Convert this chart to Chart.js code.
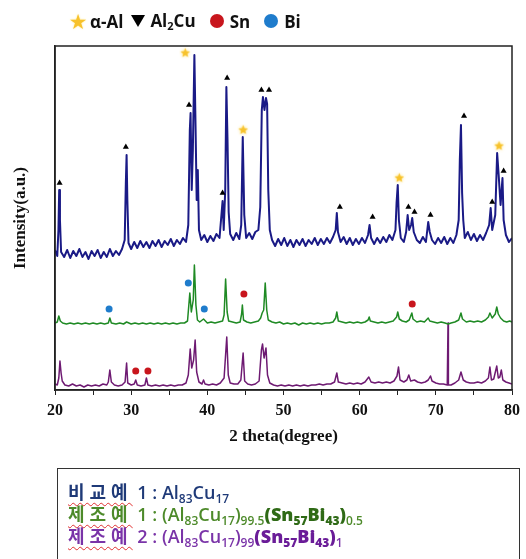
<!DOCTYPE html>
<html>
<head>
<meta charset="utf-8">
<script src="https://cdn.jsdelivr.net/npm/chart.js@4.4.0/dist/chart.umd.min.js"></script>
<style>
  body { margin: 0; background: #fff; }
  #wrap { position: relative; width: 526px; height: 559px; overflow: hidden; }
  #xrd { position: absolute; left: 0; top: 0; }
  #legend {
    position: absolute; left: 70px; top: 8px; white-space: nowrap;
    font-family: "Open Sans", sans-serif; font-weight: 700; font-size: 17px; color: #111;
  }
  #legend span { display: inline-block; vertical-align: middle; }
  #legend sub { font-size: 11px; vertical-align: -3px; }
  #legend .star { color: #f7c22c; font-size: 18px; text-shadow: 0 0 2px #ffe27a; margin-right: 4px; }
  #legend .tri {
    width: 0; height: 0; margin: 0 5px 0 8px;
    border-left: 7px solid transparent; border-right: 7px solid transparent; border-top: 12px solid #000;
  }
  #legend .dot { width: 14px; height: 14px; border-radius: 50%; margin: 0 6px 0 14px; }
  #box {
    position: absolute; left: 57px; top: 468px; width: 463px; height: 120px;
    border: 1.5px solid #333; box-sizing: border-box; padding: 11px 0 0 10px;
    font-family: "Open Sans", "Noto Sans CJK KR", sans-serif; font-size: 18px; font-weight: 600;
  }
  #box .row { height: 22px; line-height: 22px; white-space: nowrap; }
  #box .ko {
    font-family: "Noto Sans CJK KR", sans-serif; font-weight: 700; font-size: 18px; letter-spacing: 5px;
    text-decoration: underline wavy #e03030; text-decoration-thickness: 1px; text-underline-offset: 3px;
  }
  #box sub { font-size: 12px; vertical-align: -4px; line-height: 0; }
  #box b { font-weight: 800; }
  .r1 { color: #1f3a78; }
  .r2 { color: #4d8a2a; }
  .r2 b { color: #2f6a16; }
  .r3 { color: #7a34a8; }
  .r3 b { color: #6a1c98; }
</style>
</head>
<body>
<div id="wrap">
  <canvas id="xrd" width="526" height="559"></canvas>
  <div id="legend">
    <span class="star">★</span><span>α-Al</span><span class="tri"></span><span>Al<sub>2</sub>Cu</span><span class="dot" style="background:#c8161d"></span><span>Sn</span><span class="dot" style="background:#1f7ccc"></span><span>Bi</span>
  </div>
  <div id="box">
    <div class="row r1"><span class="ko">비교예</span> 1 : Al<sub>83</sub>Cu<sub>17</sub></div>
    <div class="row r2"><span class="ko">제조예</span> 1 : (Al<sub>83</sub>Cu<sub>17</sub>)<sub>99.5</sub><b>(Sn<sub>57</sub>Bi<sub>43</sub>)</b><sub>0.5</sub></div>
    <div class="row r3"><span class="ko">제조예</span> 2 : (Al<sub>83</sub>Cu<sub>17</sub>)<sub>99</sub><b>(Sn<sub>57</sub>Bi<sub>43</sub>)</b><sub>1</sub></div>
  </div>
</div>
<script>
// 2theta, intensity (a.u., stacked as in the figure)
const cmp1Data = [
  [20.0,140],[20.3,134],[20.45,160],[20.55,200],[20.65,170],[20.8,138],[21.2,133],[21.6,140],[22.0,132],[22.4,139],
  [22.8,134],[23.2,141],[23.6,133],[24.0,138],[24.4,131],[24.8,139],[25.2,134],[25.6,140],[26.0,132],[26.4,138],
  [26.8,133],[27.2,141],[27.6,134],[28.0,139],[28.4,135],[28.8,141],[29.15,150],[29.3,207],[29.4,235],[29.5,190],
  [29.65,147],[30.0,141],[30.4,148],[30.8,142],[31.2,149],[31.6,143],[32.0,148],[32.4,142],[32.8,149],[33.2,144],
  [33.6,150],[34.0,143],[34.4,149],[34.8,145],[35.2,151],[35.6,144],[36.0,150],[36.4,146],[36.8,152],[37.2,148],
  [37.5,165],[37.7,260],[37.8,277],[37.95,200],[38.1,240],[38.3,335],[38.45,265],[38.6,190],[38.75,220],[38.9,160],
  [39.2,150],[39.6,155],[40.0,148],[40.4,154],[40.8,149],[41.2,156],[41.6,152],[41.85,175],[42.0,189],[42.15,160],
  [42.35,200],[42.5,303],[42.65,250],[42.8,178],[43.0,156],[43.4,150],[43.8,157],[44.2,151],[44.45,165],[44.65,253],
  [44.85,175],[45.1,152],[45.5,157],[45.9,151],[46.3,158],[46.7,160],[46.95,183],[47.15,280],[47.3,293],[47.5,280],
  [47.7,292],[47.85,286],[48.0,200],[48.2,160],[48.5,150],[48.9,144],[49.3,151],[49.7,145],[50.1,152],[50.5,144],
  [50.9,150],[51.3,143],[51.7,150],[52.1,145],[52.5,151],[52.9,144],[53.3,150],[53.7,146],[54.1,152],[54.5,145],
  [54.9,151],[55.3,146],[55.7,152],[56.1,147],[56.5,153],[56.85,160],[57.0,177],[57.15,158],[57.5,148],[57.9,153],
  [58.3,146],[58.7,152],[59.1,145],[59.5,151],[59.9,146],[60.3,152],[60.7,147],[61.1,155],[61.3,165],[61.5,152],
  [61.9,146],[62.3,152],[62.7,147],[63.1,153],[63.5,148],[63.9,155],[64.3,150],[64.7,160],[64.85,188],[65.0,205],
  [65.15,170],[65.4,152],[65.8,148],[66.1,158],[66.3,175],[66.5,160],[66.75,165],[66.9,172],[67.1,158],[67.5,150],
  [67.9,147],[68.3,153],[68.7,148],[69.0,168],[69.2,158],[69.5,150],[69.9,146],[70.3,152],[70.7,147],[71.1,153],
  [71.5,146],[71.9,152],[72.3,147],[72.7,155],[73.0,170],[73.15,230],[73.3,265],[73.45,197],[73.6,170],[73.8,152],
  [74.2,158],[74.6,150],[75.0,156],[75.4,149],[75.8,155],[76.2,150],[76.6,157],[77.0,165],[77.2,182],[77.4,160],
  [77.8,175],[78.05,237],[78.25,215],[78.5,185],[78.75,212],[78.9,170],[79.2,155],[79.6,148],[80.0,152]
];
const ex1Data = [
  [20.0,67],[20.3,68],[20.5,74],[20.7,69],[21.0,67],[21.5,66],[22.0,67],[22.5,66],[23.0,67],[23.5,66],
  [24.0,67],[24.5,66],[25.0,67],[25.5,66],[26.0,67],[26.5,66],[27.0,67],[27.2,72],[27.4,67],[28.0,66],
  [28.5,67],[29.0,66],[29.4,68],[30.0,66],[30.5,67],[31.0,66],[31.5,67],[32.0,66],[32.5,67],[33.0,66],
  [33.5,67],[34.0,66],[34.5,67],[35.0,66],[35.5,67],[36.0,66],[36.5,67],[37.0,67],[37.4,69],[37.7,97],
  [37.9,78],[38.15,90],[38.3,125],[38.5,85],[38.7,70],[39.0,68],[39.5,71],[40.0,67],[40.5,68],[41.0,67],
  [41.5,68],[42.0,69],[42.2,75],[42.4,111],[42.6,78],[42.8,69],[43.3,68],[43.8,67],[44.3,68],[44.5,76],
  [44.6,85],[44.75,70],[45.2,68],[45.7,67],[46.2,68],[46.7,69],[47.0,72],[47.2,77],[47.4,80],[47.6,107],
  [47.8,80],[48.0,70],[48.5,68],[49.0,67],[49.5,68],[50.0,66],[50.5,67],[51.0,66],[51.5,67],[52.0,65],
  [52.5,67],[53.0,66],[53.5,67],[54.0,66],[54.5,67],[55.0,66],[55.5,67],[56.0,67],[56.5,68],[56.85,72],
  [57.0,78],[57.2,69],[57.7,68],[58.2,67],[58.7,68],[59.2,67],[59.7,68],[60.2,67],[60.7,68],[61.1,70],
  [61.25,73],[61.4,69],[61.9,68],[62.4,67],[62.9,68],[63.4,67],[63.9,68],[64.4,69],[64.85,73],[65.0,78],
  [65.2,71],[65.6,69],[66.1,68],[66.5,70],[66.85,77],[67.0,71],[67.5,68],[68.0,69],[68.5,68],[69.0,72],
  [69.2,69],[69.7,68],[70.2,67],[70.7,68],[71.2,67],[71.6,66],[72.0,67],[72.5,68],[73.0,70],[73.3,77],
  [73.5,71],[74.0,68],[74.5,69],[75.0,68],[75.5,69],[76.0,68],[76.5,70],[76.9,73],[77.1,77],[77.4,72],
  [77.8,76],[78.0,83],[78.2,76],[78.5,72],[78.9,69],[79.3,68],[79.7,69],[80.0,68]
];
const ex2Data = [
  [20.0,6],[20.3,5],[20.5,12],[20.65,29],[20.8,17],[20.95,9],[21.3,5],[21.8,4],[22.3,6],[22.8,4],
  [23.3,5],[23.8,3],[24.3,5],[24.8,4],[25.3,5],[25.8,4],[26.3,6],[26.8,5],[27.0,8],[27.2,20],
  [27.4,8],[27.8,5],[28.3,4],[28.8,5],[29.2,8],[29.4,27],[29.55,7],[30.0,5],[30.4,6],[30.6,10],
  [30.8,5],[31.3,4],[31.8,5],[32.0,12],[32.2,5],[32.7,4],[33.2,5],[33.7,4],[34.2,5],[34.7,4],
  [35.2,5],[35.7,4],[36.2,5],[36.7,5],[37.2,7],[37.5,15],[37.75,41],[37.95,22],[38.2,30],[38.4,50],
  [38.6,18],[38.9,8],[39.3,6],[39.5,10],[39.7,6],[40.2,5],[40.7,6],[41.2,5],[41.7,7],[42.2,12],
  [42.55,53],[42.75,15],[43.0,7],[43.5,6],[44.0,6],[44.4,10],[44.7,37],[44.9,9],[45.3,6],[45.8,5],
  [46.3,6],[46.8,9],[47.1,40],[47.25,46],[47.45,32],[47.7,42],[47.9,15],[48.2,7],[48.7,5],[49.2,4],
  [49.7,5],[50.2,4],[50.7,5],[51.2,4],[51.7,5],[52.2,4],[52.7,5],[53.2,4],[53.7,5],[54.2,5],
  [54.7,6],[55.2,5],[55.7,6],[56.2,6],[56.7,8],[57.0,17],[57.2,8],[57.7,7],[58.2,6],[58.7,7],
  [59.2,6],[59.7,7],[60.2,6],[60.7,8],[61.2,13],[61.5,8],[62.0,7],[62.5,8],[63.0,7],[63.5,8],
  [64.0,7],[64.5,9],[64.9,14],[65.1,23],[65.3,10],[65.8,8],[66.2,10],[66.45,15],[66.7,9],[67.2,10],
  [67.6,8],[68.1,7],[68.6,8],[69.0,10],[69.3,14],[69.5,9],[70.0,7],[70.5,6],[71.0,6],[71.5,5],
  [71.6,67],[71.65,5],[72.0,5],[72.5,7],[73.0,10],[73.3,18],[73.6,10],[74.0,8],[74.5,7],[75.0,7],
  [75.5,8],[76.0,7],[76.5,9],[76.9,12],[77.1,23],[77.3,10],[77.6,11],[78.0,24],[78.2,12],[78.4,13],
  [78.6,20],[78.8,10],[79.2,8],[79.6,7],[80.0,6]
];

// phase markers
const alphaAlMarks = [[37.1,337],[44.7,260],[65.2,212],[78.3,244]];
const al2CuMarks = [[20.6,207],[29.3,243],[37.6,285],[42.0,197],[42.6,312],[47.1,300],[48.1,300],
  [57.4,183],[61.7,173],[66.4,183],[67.2,178],[69.3,175],[73.7,274],[77.4,188],[78.9,219]];
const snMarks = [[44.8,96],[66.9,86],[30.6,19],[32.2,19]];
const biMarks = [[27.1,81],[37.5,107],[39.6,81]];

const xTickLabels = [20, 30, 40, 50, 60, 70, 80];

function makeStar(size, color) {
  const c = document.createElement('canvas');
  c.width = size; c.height = size;
  const g = c.getContext('2d');
  const r = size / 2 - 1.5, cx = size / 2, cy = size / 2;
  g.shadowColor = 'rgba(255,220,90,0.9)';
  g.shadowBlur = 3;
  g.fillStyle = color;
  g.beginPath();
  for (let i = 0; i < 10; i++) {
    const rr = i % 2 === 0 ? r : r * 0.45;
    const a = -Math.PI / 2 + i * Math.PI / 5;
    g.lineTo(cx + rr * Math.cos(a), cy + rr * Math.sin(a));
  }
  g.closePath();
  g.fill();
  return c;
}

const frame = {
  id: 'frame',
  afterDraw(chart) {
    const {ctx, chartArea: a} = chart;
    ctx.save();
    ctx.strokeStyle = '#222';
    ctx.lineWidth = 1.5;
    ctx.strokeRect(a.left, a.top, a.right - a.left, a.bottom - a.top);
    ctx.restore();
  }
};

const lineSet = (data, color, width) => ({
  type: 'line', data, borderColor: color, borderWidth: width, pointRadius: 0,
  borderJoinStyle: 'round', tension: 0, order: 1
});
const markSet = (data, style, color, radius) => ({
  type: 'scatter', data, pointStyle: style, backgroundColor: color, borderColor: color,
  pointRadius: radius, borderWidth: 0, order: 0
});

const ctx = document.getElementById('xrd').getContext('2d');
new Chart(ctx, {
  data: {
    datasets: [
      lineSet(cmp1Data, '#1a1a86', 2),
      lineSet(ex1Data, '#1f8a24', 1.5),
      lineSet(ex2Data, '#6e1a72', 1.5),
      markSet(alphaAlMarks, makeStar(13, '#f7c22c'), '#f7c22c', 6),
      markSet(al2CuMarks, 'triangle', '#000', 3.5),
      markSet(snMarks, 'circle', '#c8161d', 3.5),
      markSet(biMarks, 'circle', '#1f7ccc', 3.5)
    ]
  },
  options: {
    responsive: false,
    animation: false,
    layout: { padding: { top: 46, right: 12, left: 0, bottom: 99 } },
    plugins: { legend: { display: false }, tooltip: { enabled: false } },
    scales: {
      x: {
        type: 'linear', min: 20, max: 80,
        afterFit: (s) => { s.height = 70; },
        border: { color: '#222', width: 1.5 },
        grid: { drawOnChartArea: false, drawTicks: true, tickLength: 5, color: '#222' },
        ticks: {
          stepSize: 5, autoSkip: false, maxRotation: 0, padding: 6, color: '#111',
          font: { family: 'Liberation Serif', size: 16, weight: 'bold' },
          callback: (v) => xTickLabels.includes(v) ? String(v) : ''
        },
        title: {
          display: true, text: '2 theta(degree)', color: '#111',
          font: { family: 'Liberation Serif', size: 17, weight: 'bold' },
          padding: { top: 0, bottom: 13 }
        }
      },
      y: {
        min: 0, max: 344,
        afterFit: (s) => { s.width = 55; },
        border: { color: '#222', width: 1.5 },
        grid: { display: false },
        ticks: { display: false },
        title: {
          display: true, text: 'Intensity(a.u.)', color: '#111',
          font: { family: 'Liberation Serif', size: 17, weight: 'bold' },
          padding: { top: 10, bottom: 0 }
        }
      }
    }
  },
  plugins: [frame]
});
</script>
</body>
</html>
